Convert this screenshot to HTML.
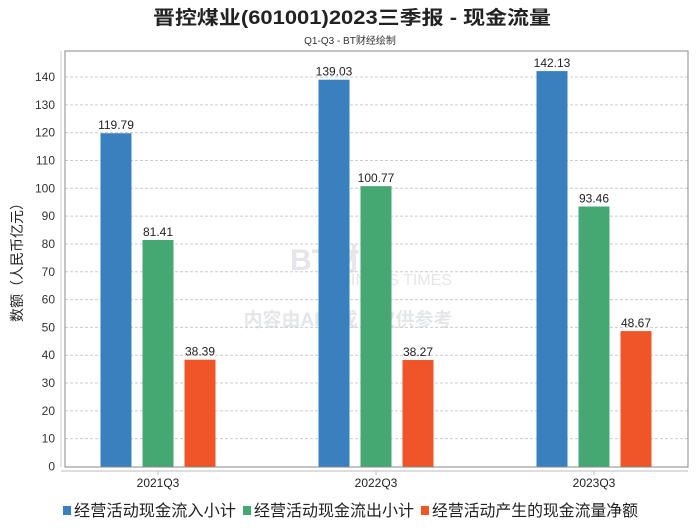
<!DOCTYPE html>
<html><head><meta charset="utf-8"><style>
body{margin:0;background:#fff;font-family:"Liberation Sans","Noto Sans CJK SC",sans-serif}
svg text{font-family:"Liberation Sans","Noto Sans CJK SC",sans-serif}
</style></head><body>
<svg id="c" width="700" height="524" xmlns="http://www.w3.org/2000/svg">
<text x="352" y="24" text-anchor="middle" font-size="19" font-weight="bold" fill="#222" textLength="398" lengthAdjust="spacingAndGlyphs">晋控煤业(601001)2023三季报 - 现金流量</text>
<text x="350" y="44" text-anchor="middle" font-size="10" fill="#333">Q1-Q3 - BT财经绘制</text>
<g fill="#e4e6ea">
<text x="340" y="270" text-anchor="middle" font-size="30" font-weight="bold" font-family="Liberation Serif">BT财经</text>
<text x="385" y="285" text-anchor="middle" font-size="16" font-family="Liberation Serif">BUSINESS TIMES</text>
<text x="348" y="326" text-anchor="middle" font-size="19" font-weight="bold">内容由AI生成，仅供参考</text>
</g>
<g id="grid"></g>
<rect x="65" y="51" width="623" height="416" fill="none" stroke="#888"/>
<line x1="61" y1="51" x2="61" y2="467" stroke="#ccc"/>
<line x1="61" y1="471" x2="688" y2="471" stroke="#bbb"/>
<g id="bars"></g>
<text transform="translate(22,259) rotate(-90)" text-anchor="middle" font-size="14" fill="#222">数额（人民币亿元）</text>
<g id="legend"></g>
</svg>
<script>
const categories=["2021Q3","2022Q3","2023Q3"];
const inflow=[119.79,139.03,142.13];
const outflow=[81.41,100.77,93.46];
const net=[38.39,38.27,48.67];
const yTicks=[0,10,20,30,40,50,60,70,80,90,100,110,120,130,140];
const seriesNames=["经营活动现金流入小计","经营活动现金流出小计","经营活动产生的现金流量净额"];
const colors=["#3a80bf","#45a873","#ef5528"];
const NS="http://www.w3.org/2000/svg";
function y(v){return 466.5-v*2.782;}
function xc(i){return 158+i*218;}
function mk(tag,attrs,parent){const e=document.createElementNS(NS,tag);for(const k in attrs)e.setAttribute(k,attrs[k]);parent.appendChild(e);return e;}
const grid=document.getElementById('grid');
yTicks.forEach(t=>{
  if(t>0){const l=mk('line',{x1:65,x2:688,y1:y(t),y2:y(t),stroke:'#ccc','stroke-dasharray':'3,2'},grid);
  
  }
  const tx=mk('text',{x:55,y:y(t)+4,'text-anchor':'end','font-size':12,fill:'#333'},grid);
  tx.textContent=t;
  
  
});
const bars=document.getElementById('bars');
const series=[inflow,outflow,net];
const offs=[-42,0,42];
categories.forEach((c,i)=>{
  series.forEach((s,j)=>{
    const v=s[i];
    const r=mk('rect',{x:xc(i)+offs[j]-15.5,y:y(v),width:31,height:y(0)-y(v),fill:colors[j]},bars);
    
    
    const t=mk('text',{x:xc(i)+offs[j],y:y(v)-4,'text-anchor':'middle','font-size':12,fill:'#222'},bars);
    t.textContent=v.toFixed(2);
    
    
  });
  const tk=mk('line',{x1:xc(i),x2:xc(i),y1:471,y2:475,stroke:'#bbb'},bars);
  
  
  const lb=mk('text',{x:xc(i),y:487,'text-anchor':'middle','font-size':12,fill:'#222'},bars);
  lb.textContent=c;
  
  
});
const legend=document.getElementById('legend');
const lx=[63,243,421];
const lw=[162,160,206];
seriesNames.forEach((n,j)=>{
  const g=mk('g',{},legend);
  
  
  mk('rect',{x:lx[j],y:506,width:8,height:9,fill:colors[j]},g);
  const t=mk('text',{x:lx[j]+11,y:516,'font-size':16,fill:'#222',textLength:lw[j],lengthAdjust:'spacingAndGlyphs'},g);
  t.textContent=n;
});
</script>
</body></html>
